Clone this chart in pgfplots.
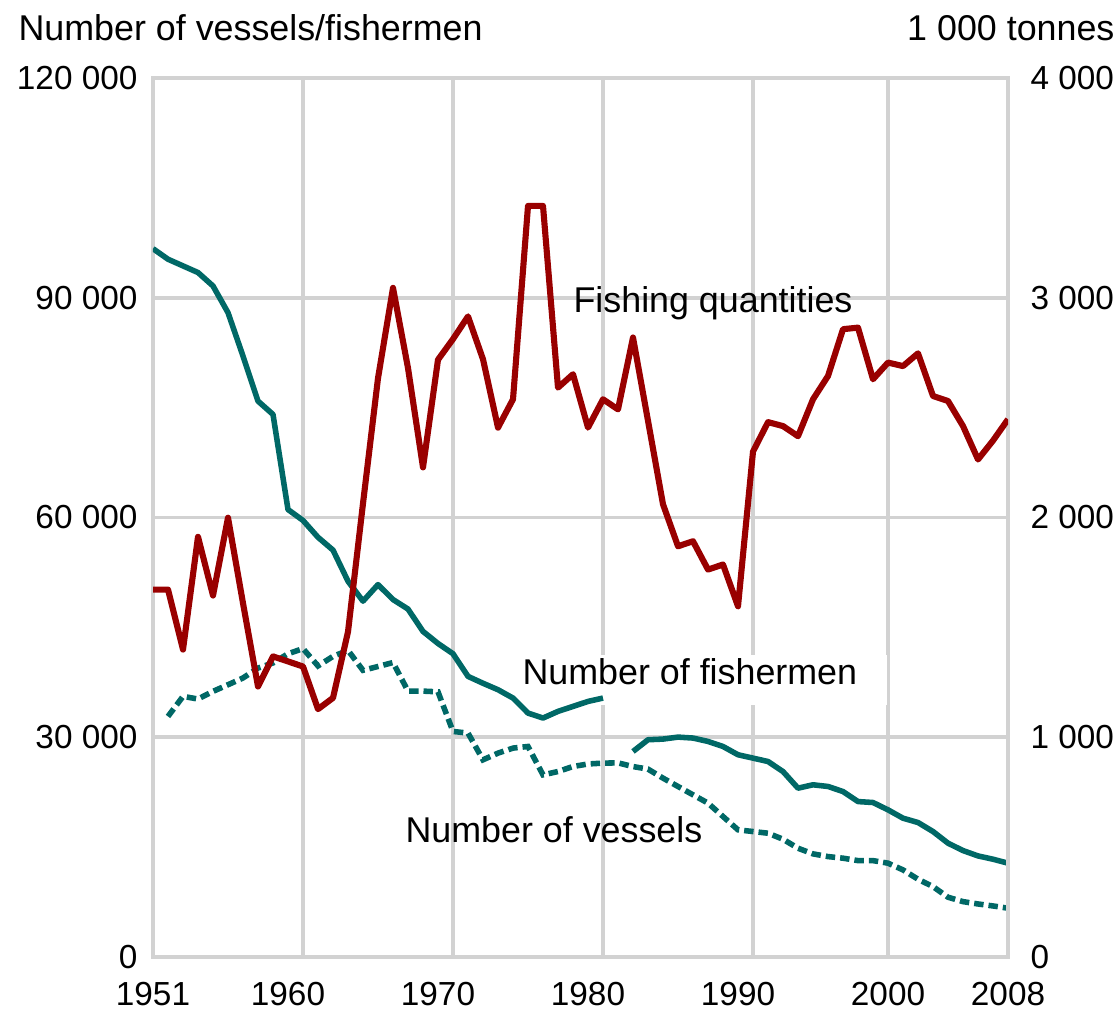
\documentclass[border=0pt]{standalone}
\usepackage{pgfplots}
\pgfplotsset{compat=1.18}
\usepackage{fontspec}
\setmainfont{Liberation Sans}
\definecolor{fishred}{RGB}{153,0,0}
\definecolor{tealc}{RGB}{0,104,102}
\definecolor{gridc}{RGB}{210,210,210}

\pgfplotstableread{
year q
1951 1672
1952 1672
1953 1399
1954 1912
1955 1645
1956 1999
1957 1610
1958 1231
1959 1368
1960 1345
1961 1322
1962 1128
1963 1179
1964 1480
1965 2064
1966 2634
1967 3045
1968 2680
1969 2228
1970 2718
1971 2812
1972 2915
1973 2720
1974 2409
1975 2538
1976 3418
1977 3418
1978 2591
1979 2652
1980 2409
1981 2538
1982 2492
1983 2819
1984 2440
1985 2060
1986 1869
1987 1892
1988 1763
1989 1786
1990 1596
1991 2300
1992 2434
1993 2416
1994 2370
1995 2538
1996 2644
1997 2857
1998 2864
1999 2629
2000 2705
2001 2689
2002 2747
2003 2553
2004 2530
2005 2416
2006 2264
2007 2350
2008 2447
}\fishq

\pgfplotstableread{
year n
1951 96700
1952 95260
1953 94350
1954 93440
1955 91610
1956 87970
1957 82040
1958 75890
1959 74070
1960 61090
1961 59600
1962 57300
1963 55550
1964 51300
1965 48580
1966 50840
1967 48800
1968 47500
1969 44450
1970 42800
1971 41400
1972 38310
1973 37370
1974 36490
1975 35350
1976 33300
1977 32620
1978 33530
1979 34210
1980 34890
1981 35350
}\fishermenA

\pgfplotstableread{
year n
1983 28060
1984 29660
1985 29750
1986 30020
1987 29890
1988 29430
1989 28740
1990 27610
1991 27150
1992 26690
1993 25320
1994 23050
1995 23510
1996 23280
1997 22590
1998 21220
1999 21090
2000 20090
2001 18950
2002 18360
2003 17130
2004 15540
2005 14530
2006 13800
2007 13350
2008 12810
}\fishermenB

\pgfplotstableread{
year n
1952 32840
1953 35580
1954 35220
1955 36260
1956 37170
1957 38090
1958 39450
1959 40140
1960 41400
1961 42100
1962 39740
1963 41040
1964 41860
1965 39140
1966 39660
1967 40200
1968 36300
1969 36300
1970 36200
1971 30790
1972 30570
1973 26920
1974 27830
1975 28520
1976 28740
1977 24870
1978 25320
1979 26010
1980 26350
1981 26470
1982 26500
1983 26000
1984 25650
1985 24420
1986 23280
1987 22140
1988 21010
1989 19180
1990 17360
1991 17130
1992 16900
1993 16080
1994 14850
1995 14080
1996 13710
1997 13490
1998 13160
1999 13160
2000 12810
2001 11890
2002 10620
2003 9610
2004 8160
2005 7560
2006 7240
2007 6970
2008 6660
}\vessels

\begin{document}
\begin{tikzpicture}
\pgfplotsset{
  base/.style={
    scale only axis, width=307.8pt, height=316.44pt,
    xmin=1951, xmax=2008,
    scaled ticks=false,
    tick style={draw=none},
    tick label style={font=\fontsize{12}{14}\selectfont, inner sep=0pt},
    axis line style={draw=gridc, line width=1.4pt},
  }
}
\begin{axis}[base, name=ax,
  ymin=0, ymax=120000,
  ytick={0,30000,60000,90000,120000},
  yticklabels={0,30~000,60~000,90~000,120~000},
  ymajorgrids,
  grid style={draw=gridc, line width=1.4pt},
  xtick={1951,1960,1970,1980,1990,2000,2008},
  xticklabels={1951,1960,1970,1980,1990,2000,2008},
  extra x ticks={1961,1971,1981,1991,2000},
  extra x tick labels={},
  extra x tick style={grid=major},
  yticklabel shift=5.4pt,
  xticklabel shift=9pt,
]
\fill[white] (axis cs:1975.13,41270) rectangle (axis cs:1999.93,34440);
\addplot[tealc, line width=2pt, line join=round] table[x=year,y=n] {\fishermenA};
\addplot[tealc, line width=2pt, line join=round] table[x=year,y=n] {\fishermenB};
\addplot[tealc, line width=2pt, dash pattern=on 3.4pt off 1.8pt] table[x=year,y=n] {\vessels};
\node[anchor=base west, font=\fontsize{12.9}{15}\selectfont, inner sep=0pt] at (axis cs:1979.0,88000) {Fishing quantities};
\node[anchor=base west, font=\fontsize{12.9}{15}\selectfont, inner sep=0pt] at (axis cs:1975.6,37170) {Number of fishermen};
\node[anchor=base west, font=\fontsize{12.9}{15}\selectfont, inner sep=0pt] at (axis cs:1967.8,15580) {Number of vessels};
\end{axis}
\begin{axis}[base,
  ymin=0, ymax=4000,
  axis y line*=right, axis x line=none,
  ytick={0,1000,2000,3000,4000},
  yticklabels={0,1~000,2~000,3~000,4~000},
  yticklabel shift=7.9pt,
]
\addplot[fishred, line width=2.2pt, line join=round] table[x=year,y=q] {\fishq};
\end{axis}
\node[anchor=base west, font=\fontsize{12.9}{15}\selectfont, inner sep=0pt] at ([xshift=-48.6pt,yshift=13.32pt]ax.north west) {Number of vessels/fishermen};
\node[anchor=base east, font=\fontsize{12.9}{15}\selectfont, inner sep=0pt] at ([xshift=38.52pt,yshift=13.32pt]ax.north east) {1~000 tonnes};
\pgfresetboundingbox
\path[use as bounding box] ([xshift=-55.08pt,yshift=-21.96pt]ax.south west) rectangle ([xshift=40.32pt,yshift=28.08pt]ax.north east);
\end{tikzpicture}
\end{document}
